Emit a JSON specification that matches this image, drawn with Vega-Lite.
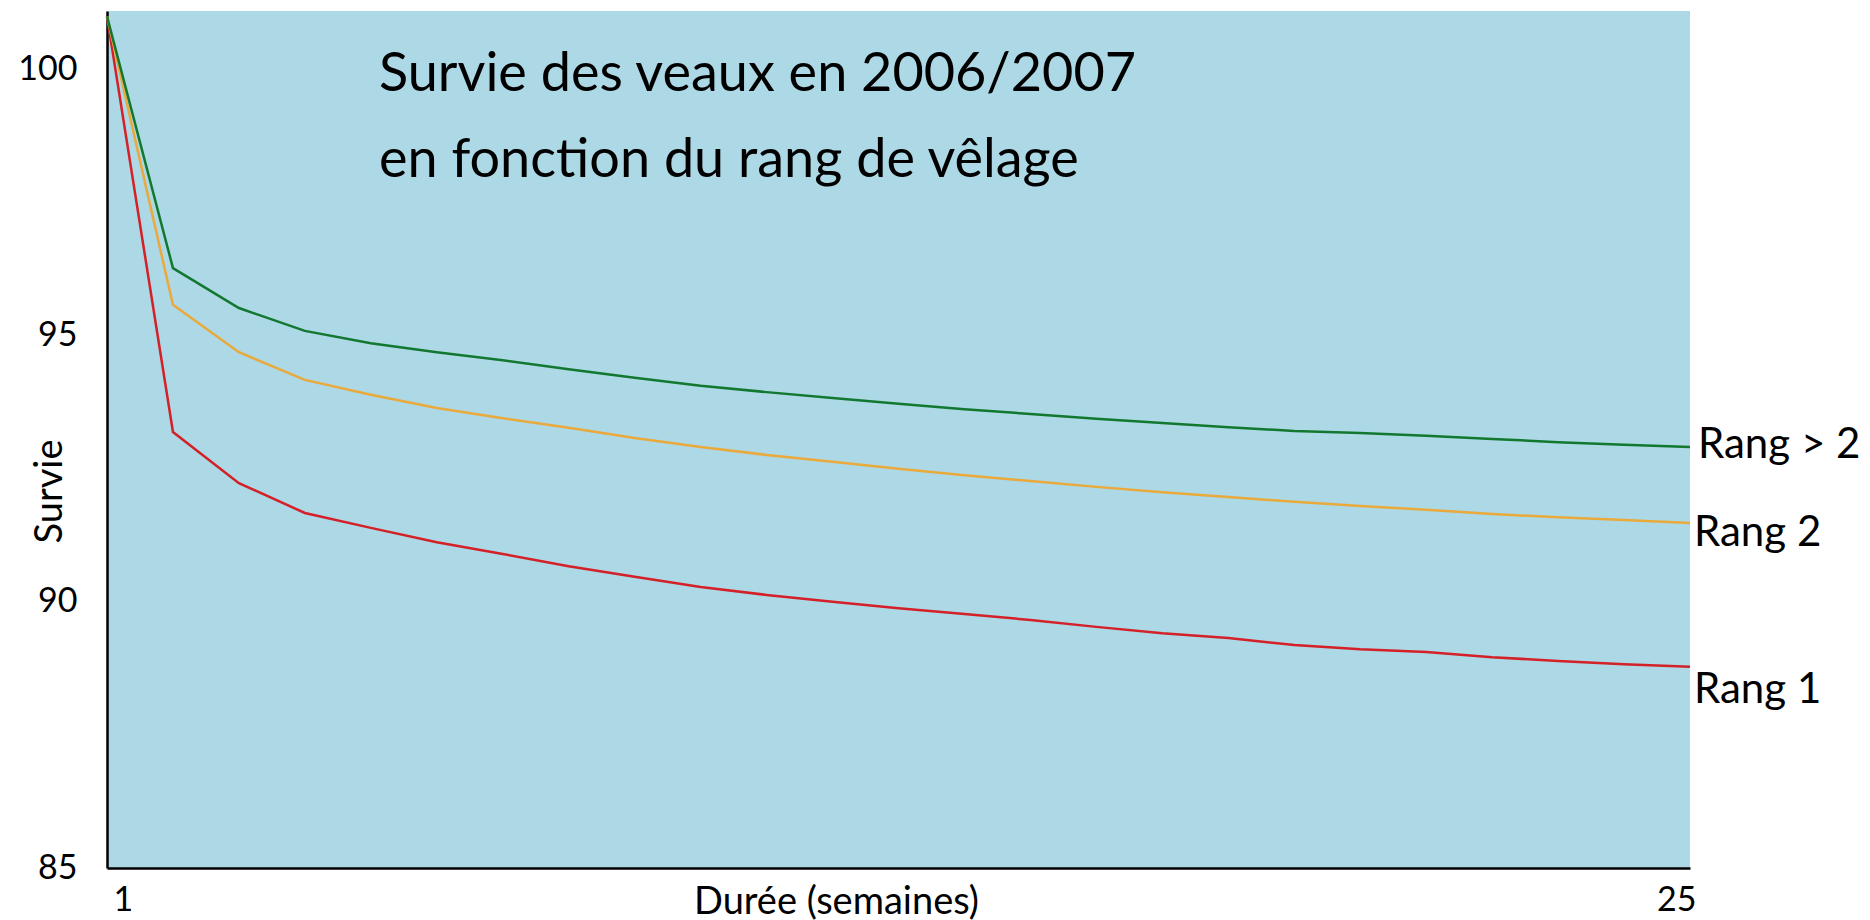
{
  "$schema": "https://vega.github.io/schema/vega-lite/v6.json",
  "width": 1583,
  "height": 857,
  "autosize": {"type": "none"},
  "padding": {"left": 107, "top": 11, "right": 180, "bottom": 52},
  "background": "white",
  "config": {"font": "Lato", "view": {"fill": "#ADD8E6", "stroke": null}},
  "title": {
    "text": ["Survie des veaux en 2006/2007", "en fonction du rang de vêlage"],
    "anchor": "start",
    "frame": "group",
    "orient": "top",
    "baseline": "top",
    "offset": -177,
    "dx": 272,
    "fontSize": 54,
    "fontWeight": "normal",
    "lineHeight": 86,
    "color": "black",
    "font": "Lato"
  },
  "data": {
    "values": [
      {"semaine": 1, "rang": "Rang 1", "survie": 101.0},
      {"semaine": 2, "rang": "Rang 1", "survie": 93.19},
      {"semaine": 3, "rang": "Rang 1", "survie": 92.23},
      {"semaine": 4, "rang": "Rang 1", "survie": 91.67},
      {"semaine": 5, "rang": "Rang 1", "survie": 91.39},
      {"semaine": 6, "rang": "Rang 1", "survie": 91.12},
      {"semaine": 7, "rang": "Rang 1", "survie": 90.90},
      {"semaine": 8, "rang": "Rang 1", "survie": 90.67},
      {"semaine": 9, "rang": "Rang 1", "survie": 90.47},
      {"semaine": 10, "rang": "Rang 1", "survie": 90.28},
      {"semaine": 11, "rang": "Rang 1", "survie": 90.13},
      {"semaine": 12, "rang": "Rang 1", "survie": 90.00},
      {"semaine": 13, "rang": "Rang 1", "survie": 89.88},
      {"semaine": 14, "rang": "Rang 1", "survie": 89.77},
      {"semaine": 15, "rang": "Rang 1", "survie": 89.66},
      {"semaine": 16, "rang": "Rang 1", "survie": 89.53},
      {"semaine": 17, "rang": "Rang 1", "survie": 89.41},
      {"semaine": 18, "rang": "Rang 1", "survie": 89.32},
      {"semaine": 19, "rang": "Rang 1", "survie": 89.19},
      {"semaine": 20, "rang": "Rang 1", "survie": 89.11},
      {"semaine": 21, "rang": "Rang 1", "survie": 89.06},
      {"semaine": 22, "rang": "Rang 1", "survie": 88.96},
      {"semaine": 23, "rang": "Rang 1", "survie": 88.89},
      {"semaine": 24, "rang": "Rang 1", "survie": 88.83},
      {"semaine": 25, "rang": "Rang 1", "survie": 88.78},
      {"semaine": 1, "rang": "Rang 2", "survie": 101.0},
      {"semaine": 2, "rang": "Rang 2", "survie": 95.58},
      {"semaine": 3, "rang": "Rang 2", "survie": 94.69},
      {"semaine": 4, "rang": "Rang 2", "survie": 94.17},
      {"semaine": 5, "rang": "Rang 2", "survie": 93.89},
      {"semaine": 6, "rang": "Rang 2", "survie": 93.64},
      {"semaine": 7, "rang": "Rang 2", "survie": 93.45},
      {"semaine": 8, "rang": "Rang 2", "survie": 93.27},
      {"semaine": 9, "rang": "Rang 2", "survie": 93.08},
      {"semaine": 10, "rang": "Rang 2", "survie": 92.91},
      {"semaine": 11, "rang": "Rang 2", "survie": 92.76},
      {"semaine": 12, "rang": "Rang 2", "survie": 92.63},
      {"semaine": 13, "rang": "Rang 2", "survie": 92.50},
      {"semaine": 14, "rang": "Rang 2", "survie": 92.38},
      {"semaine": 15, "rang": "Rang 2", "survie": 92.27},
      {"semaine": 16, "rang": "Rang 2", "survie": 92.16},
      {"semaine": 17, "rang": "Rang 2", "survie": 92.06},
      {"semaine": 18, "rang": "Rang 2", "survie": 91.97},
      {"semaine": 19, "rang": "Rang 2", "survie": 91.88},
      {"semaine": 20, "rang": "Rang 2", "survie": 91.80},
      {"semaine": 21, "rang": "Rang 2", "survie": 91.73},
      {"semaine": 22, "rang": "Rang 2", "survie": 91.65},
      {"semaine": 23, "rang": "Rang 2", "survie": 91.59},
      {"semaine": 24, "rang": "Rang 2", "survie": 91.54},
      {"semaine": 25, "rang": "Rang 2", "survie": 91.48},
      {"semaine": 1, "rang": "Rang > 2", "survie": 101.0},
      {"semaine": 2, "rang": "Rang > 2", "survie": 96.27},
      {"semaine": 3, "rang": "Rang > 2", "survie": 95.52},
      {"semaine": 4, "rang": "Rang > 2", "survie": 95.09},
      {"semaine": 5, "rang": "Rang > 2", "survie": 94.86},
      {"semaine": 6, "rang": "Rang > 2", "survie": 94.69},
      {"semaine": 7, "rang": "Rang > 2", "survie": 94.54},
      {"semaine": 8, "rang": "Rang > 2", "survie": 94.37},
      {"semaine": 9, "rang": "Rang > 2", "survie": 94.21},
      {"semaine": 10, "rang": "Rang > 2", "survie": 94.06},
      {"semaine": 11, "rang": "Rang > 2", "survie": 93.94},
      {"semaine": 12, "rang": "Rang > 2", "survie": 93.83},
      {"semaine": 13, "rang": "Rang > 2", "survie": 93.72},
      {"semaine": 14, "rang": "Rang > 2", "survie": 93.62},
      {"semaine": 15, "rang": "Rang > 2", "survie": 93.53},
      {"semaine": 16, "rang": "Rang > 2", "survie": 93.44},
      {"semaine": 17, "rang": "Rang > 2", "survie": 93.36},
      {"semaine": 18, "rang": "Rang > 2", "survie": 93.28},
      {"semaine": 19, "rang": "Rang > 2", "survie": 93.21},
      {"semaine": 20, "rang": "Rang > 2", "survie": 93.17},
      {"semaine": 21, "rang": "Rang > 2", "survie": 93.12},
      {"semaine": 22, "rang": "Rang > 2", "survie": 93.06},
      {"semaine": 23, "rang": "Rang > 2", "survie": 93.00},
      {"semaine": 24, "rang": "Rang > 2", "survie": 92.95},
      {"semaine": 25, "rang": "Rang > 2", "survie": 92.91}
    ]
  },
  "encoding": {
    "x": {
      "field": "semaine",
      "type": "quantitative",
      "scale": {"domain": [1, 25], "nice": false, "zero": false},
      "axis": {
        "values": [1, 25],
        "title": "Durée (semaines)",
        "grid": false,
        "ticks": false,
        "domainColor": "black",
        "domainWidth": 2.5,
        "labelFontSize": 34,
        "labelColor": "black",
        "labelPadding": 15,
        "labelOffset": 6,
        "titleFontSize": 38,
        "titleFontWeight": "normal",
        "titleColor": "black",
        "titleX": 729,
        "titleY": 34,
        "titleAlign": "center",
        "titleBaseline": "middle"
      }
    },
    "y": {
      "field": "survie",
      "type": "quantitative",
      "scale": {"domain": [85, 101.1], "nice": false, "zero": false},
      "axis": {
        "values": [85, 90, 95, 100],
        "title": "Survie",
        "grid": false,
        "ticks": false,
        "domainColor": "black",
        "domainWidth": 2.5,
        "labelFontSize": 34,
        "labelColor": "black",
        "labelPadding": 30,
        "titleFontSize": 38,
        "titleFontWeight": "normal",
        "titleColor": "black",
        "titleX": -57,
        "titleY": 480,
        "titleAlign": "center",
        "titleBaseline": "middle"
      }
    }
  },
  "layer": [
    {
      "mark": {"type": "line", "strokeWidth": 2.5},
      "encoding": {
        "color": {
          "field": "rang",
          "type": "nominal",
          "scale": {"domain": ["Rang 1", "Rang 2", "Rang > 2"], "range": ["#D42027", "#E9A93B", "#12782F"]},
          "legend": null
        }
      }
    },
    {
      "transform": [{"filter": "datum.semaine == 25 && datum.rang == 'Rang > 2'"}],
      "mark": {"type": "text", "align": "left", "baseline": "middle", "dx": 8, "dy": -2, "fontSize": 42, "color": "black"},
      "encoding": {"text": {"field": "rang"}}
    },
    {
      "transform": [{"filter": "datum.semaine == 25 && datum.rang == 'Rang 2'"}],
      "mark": {"type": "text", "align": "left", "baseline": "middle", "dx": 4, "dy": 10, "fontSize": 42, "color": "black"},
      "encoding": {"text": {"field": "rang"}}
    },
    {
      "transform": [{"filter": "datum.semaine == 25 && datum.rang == 'Rang 1'"}],
      "mark": {"type": "text", "align": "left", "baseline": "middle", "dx": 4, "dy": 23, "fontSize": 42, "color": "black"},
      "encoding": {"text": {"field": "rang"}}
    }
  ]
}
